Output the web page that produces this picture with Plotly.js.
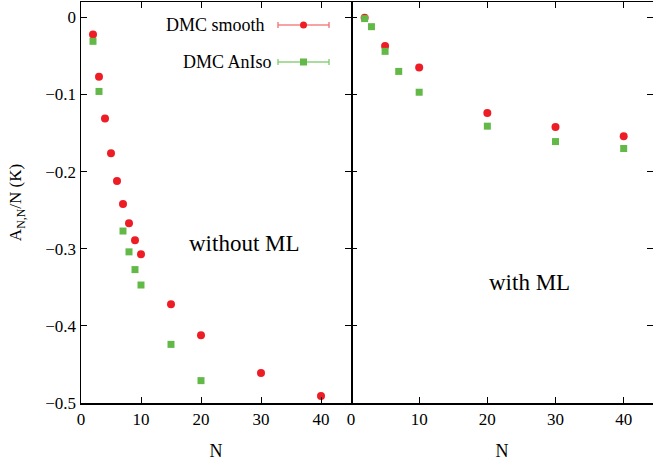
<!DOCTYPE html>
<html>
<head>
<meta charset="utf-8">
<script src="https://cdn.plot.ly/plotly-3.0.1.min.js"></script>
<style>html,body{margin:0;padding:0;background:#fff;}#chart{width:653px;height:463px;}</style>
</head>
<body>
<div id="chart"></div>
<script>
// Left panel: without ML
const N_left_smooth = [2, 3, 4, 5, 6, 7, 8, 9, 10, 15, 20, 30, 40];
const E_left_smooth = [-0.022, -0.077, -0.131, -0.176, -0.212, -0.242, -0.267, -0.289, -0.307, -0.372, -0.412, -0.461, -0.491];
const N_left_aniso = [2, 3, 7, 8, 9, 10, 15, 20];
const E_left_aniso = [-0.031, -0.096, -0.277, -0.304, -0.327, -0.347, -0.424, -0.471];
// Right panel: with ML
const N_right_smooth = [2, 5, 10, 20, 30, 40];
const E_right_smooth = [-0.0005, -0.037, -0.065, -0.124, -0.142, -0.154];
const N_right_aniso = [2, 3, 5, 7, 10, 20, 30, 40];
const E_right_aniso = [-0.0015, -0.012, -0.044, -0.070, -0.097, -0.141, -0.161, -0.170];

const seriesNames = ['DMC smooth', 'DMC AnIso'];
const xTicks = [0, 10, 20, 30, 40];

const RED = '#ee1d25';
const GREEN = '#62b947';
const FONT = 'Liberation Serif, Times New Roman, serif';

const traces = [
  {x: N_left_smooth, y: E_left_smooth, xaxis: 'x', yaxis: 'y', mode: 'markers', name: seriesNames[0],
   marker: {symbol: 'circle', size: 8, color: RED}},
  {x: N_left_aniso, y: E_left_aniso, xaxis: 'x', yaxis: 'y', mode: 'markers', name: seriesNames[1],
   marker: {symbol: 'square', size: 7, color: GREEN}},
  {x: N_right_smooth, y: E_right_smooth, xaxis: 'x2', yaxis: 'y2', mode: 'markers', name: seriesNames[0],
   marker: {symbol: 'circle', size: 8, color: RED}},
  {x: N_right_aniso, y: E_right_aniso, xaxis: 'x2', yaxis: 'y2', mode: 'markers', name: seriesNames[1],
   marker: {symbol: 'square', size: 7, color: GREEN}}
];

const axCommon = {
  showline: true, linecolor: '#000', linewidth: 1.5, mirror: 'ticks',
  ticks: 'inside', ticklen: 6, tickwidth: 1, tickcolor: '#000',
  showgrid: false, zeroline: false,
  tickfont: {family: FONT, size: 17, color: '#000'}
};

const split = 270 / 572;

// legend sample geometry (paper coords)
const legY = [0.9426, 0.8504];
const legX0 = 0.3444, legX1 = 0.4336, legXc = (legX0 + legX1) / 2;
const legLineCol = ['rgba(240,110,110,0.85)', 'rgba(130,205,110,0.9)'];
const legMarkCol = [RED, GREEN];
const shapes = [];
legY.forEach((yy, i) => {
  shapes.push({type: 'line', xref: 'paper', yref: 'paper', x0: legX0, x1: legX1, y0: yy, y1: yy,
    line: {color: legLineCol[i], width: 1.5}});
  [legX0, legX1].forEach(xx => shapes.push({type: 'line', xref: 'paper', yref: 'paper',
    xsizemode: 'scaled', ysizemode: 'pixel', yanchor: yy, x0: xx, x1: xx, y0: -3, y1: 3,
    line: {color: legLineCol[i], width: 1.5}}));
  shapes.push({type: i === 0 ? 'circle' : 'rect', xref: 'paper', yref: 'paper',
    xsizemode: 'pixel', ysizemode: 'pixel', xanchor: legXc, yanchor: yy,
    x0: -3.5, x1: 3.5, y0: -3.5, y1: 3.5, fillcolor: legMarkCol[i], line: {width: 0}});
});

const layout = {
  width: 653, height: 463,
  margin: {l: 81, r: 0, t: 2, b: 60},
  paper_bgcolor: '#fff', plot_bgcolor: '#fff',
  showlegend: false,
  font: {family: FONT, size: 17, color: '#000'},
  xaxis: Object.assign({}, axCommon, {domain: [0, split], range: [0, 45], tickvals: xTicks, anchor: 'y',
    title: {text: 'N', font: {family: FONT, size: 18, color: '#000'}, standoff: 16}}),
  yaxis: Object.assign({}, axCommon, {range: [-0.5, 0.02], dtick: 0.1, tick0: 0, anchor: 'x',
    title: {text: 'A<sub>N,N</sub>/N (K)', font: {family: FONT, size: 17, color: '#000'}, standoff: 19}}),
  xaxis2: Object.assign({}, axCommon, {domain: [split, 1], range: [0, 44.3], tickvals: xTicks, anchor: 'y2',
    title: {text: 'N', font: {family: FONT, size: 18, color: '#000'}, standoff: 16}}),
  yaxis2: Object.assign({}, axCommon, {range: [-0.5, 0.02], dtick: 0.1, tick0: 0, anchor: 'x2',
    showticklabels: false, showline: false}),
  shapes: shapes,
  annotations: [
    {xref: 'paper', yref: 'paper', x: 0.325, y: legY[0], xanchor: 'right', yanchor: 'middle', showarrow: false,
     text: seriesNames[0], font: {family: FONT, size: 18, color: '#000'}},
    {xref: 'paper', yref: 'paper', x: 0.3375, y: legY[1], xanchor: 'right', yanchor: 'middle', showarrow: false,
     text: seriesNames[1], font: {family: FONT, size: 18, color: '#000'}},
    {xref: 'x', yref: 'y', x: 27.3, y: -0.2937, showarrow: false, text: 'without ML',
     font: {family: FONT, size: 23, color: '#000'}},
    {xref: 'x2', yref: 'y2', x: 26.2, y: -0.344, showarrow: false, text: 'with ML',
     font: {family: FONT, size: 23, color: '#000'}}
  ]
};

Plotly.newPlot('chart', traces, layout, {staticPlot: true, displayModeBar: false});
</script>
</body>
</html>
